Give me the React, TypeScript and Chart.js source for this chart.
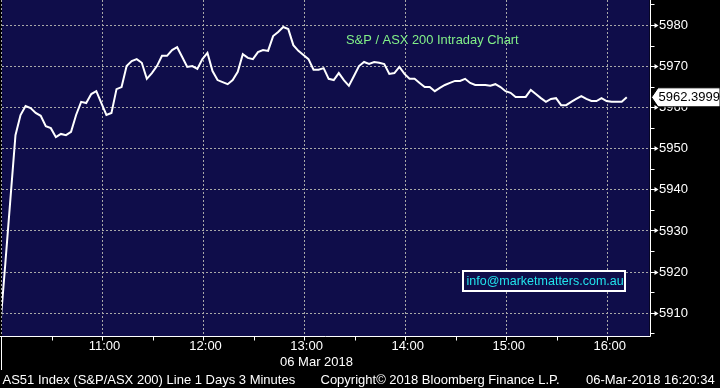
import React, { useEffect, useRef } from "react";
import { Chart, registerables } from "chart.js";

Chart.register(...registerables);

// ---- Data (3-minute bars from 10:00, 06 Mar 2018) ----
const BAR_MINUTES = 3;
const BAR_OFFSET_MIN = -1;
const closes: number[] = [
  5906.8, 5922.1, 5937.7, 5953.2, 5958.1, 5960.3, 5959.8, 5958.6, 5957.9, 5955.4,
  5954.9, 5952.7, 5953.5, 5953.2, 5954.0, 5958.1, 5961.3, 5961.0, 5963.2, 5963.9,
  5961.0, 5958.1, 5958.6, 5964.4, 5964.9, 5970.0, 5971.2, 5971.7, 5970.8, 5966.9,
  5968.3, 5970.0, 5972.5, 5972.5, 5973.9, 5974.6, 5972.2, 5969.8, 5970.0, 5969.3,
  5971.7, 5973.2, 5968.8, 5966.6, 5966.1, 5965.6, 5966.6, 5968.6, 5972.9, 5972.0,
  5971.7, 5973.4, 5973.9, 5973.7, 5977.3, 5978.3, 5979.5, 5979.0, 5975.1, 5973.7,
  5972.7, 5971.7, 5969.1, 5969.1, 5969.5, 5966.9, 5966.6, 5968.3, 5966.6, 5965.2,
  5967.6, 5970.0, 5971.0, 5970.5, 5971.0, 5970.8, 5970.5, 5968.1, 5968.3, 5969.8,
  5968.1, 5966.9, 5966.9, 5965.9, 5964.9, 5964.9, 5963.9, 5964.7, 5965.4, 5965.9,
  5966.4, 5966.4, 5966.9, 5965.9, 5965.4, 5965.4, 5965.4, 5965.2, 5965.6, 5964.9,
  5963.9, 5963.5, 5962.5, 5962.5, 5962.5, 5964.2, 5963.2, 5962.2, 5961.3, 5962.0,
  5962.2, 5960.5, 5960.5, 5961.3, 5962.0, 5962.7, 5962.0, 5961.5, 5961.5, 5962.2,
  5961.5, 5961.3, 5961.3, 5961.3, 5962.3999,
];
const lastPrice = "5962.3999";

// ---- Axes ----
const hourTickMinutes = [0, 60, 120, 180, 240, 300, 360];
const hourTickLabels = ["", "11:00", "12:00", "13:00", "14:00", "15:00", "16:00"];
const halfHourTickMinutes = [30, 90, 150, 210, 270, 330];
const yMajorTicks = [5910, 5920, 5930, 5940, 5950, 5960, 5970, 5980];
const yMinorTicks = [5905, 5915, 5925, 5935, 5945, 5955, 5965, 5975, 5985];
const X_MIN = 0;
const X_MAX = 384.5;
const Y_MIN = 5904.33;
const Y_MAX = 5986.08;

// ---- Texts ----
const titleText = "S&P / ASX 200 Intraday Chart";
const infoText = "info@marketmatters.com.au";
const dateText = "06 Mar 2018";
const footerLeft = "AS51 Index (S&P/ASX 200) Line 1 Days 3 Minutes";
const footerMid = "Copyright\u00A9 2018 Bloomberg Finance L.P.";
const footerRight = "06-Mar-2018 16:20:34";

const FONT = "'Liberation Sans', Arial, sans-serif";
const NAVY = "#0f0d4a";

const decorPlugin = {
  id: "bbgDecor",
  beforeDatasetsDraw(chart: any) {
    const ctx = chart.ctx as CanvasRenderingContext2D;
    const { left, right, top, bottom } = chart.chartArea;
    const xs = chart.scales.x;
    const ys = chart.scales.y;
    ctx.save();
    ctx.fillStyle = "#000000";
    ctx.fillRect(0, 0, chart.width, chart.height);
    ctx.fillStyle = NAVY;
    ctx.fillRect(left, top, right - left, bottom - top);
    ctx.strokeStyle = "#a8a8a8";
    ctx.lineWidth = 1;
    ctx.setLineDash([2, 2]);
    for (const v of yMajorTicks) {
      const y = Math.round(ys.getPixelForValue(v)) + 0.5;
      ctx.beginPath();
      ctx.moveTo(left, y);
      ctx.lineTo(right, y);
      ctx.stroke();
    }
    for (const m of hourTickMinutes) {
      const x = Math.round(xs.getPixelForValue(m)) - 0.5;
      ctx.beginPath();
      ctx.moveTo(x, top);
      ctx.lineTo(x, bottom);
      ctx.stroke();
    }
    ctx.restore();
  },
  afterDatasetsDraw(chart: any) {
    const ctx = chart.ctx as CanvasRenderingContext2D;
    const { right, top, bottom } = chart.chartArea;
    const xs = chart.scales.x;
    const ys = chart.scales.y;
    ctx.save();
    ctx.setLineDash([]);

    // Title
    ctx.fillStyle = "#82f088";
    ctx.font = `12.9px ${FONT}`;
    ctx.textBaseline = "middle";
    ctx.textAlign = "left";
    ctx.fillText(titleText, 346, 40);

    // Info box
    ctx.fillStyle = NAVY;
    ctx.fillRect(463, 271, 162, 20);
    ctx.strokeStyle = "#ffffff";
    ctx.lineWidth = 2;
    ctx.strokeRect(463, 271, 162, 20);
    ctx.fillStyle = "#22e4ec";
    ctx.font = `12.5px ${FONT}`;
    ctx.fillText(infoText, 466.5, 281.5);

    // Axis lines
    ctx.strokeStyle = "#ffffff";
    ctx.lineWidth = 1;
    const axY = Math.round(bottom) + 0.5;
    const axX = Math.round(right) + 0.5;
    ctx.beginPath();
    ctx.moveTo(0, axY);
    ctx.lineTo(axX, axY);
    ctx.moveTo(axX, top);
    ctx.lineTo(axX, axY);
    ctx.stroke();

    // X ticks
    ctx.beginPath();
    for (const m of [...hourTickMinutes, ...halfHourTickMinutes]) {
      const x = Math.round(xs.getPixelForValue(m)) - 0.5;
      ctx.moveTo(x, axY);
      ctx.lineTo(x, axY + 4);
    }
    const x0 = Math.round(xs.getPixelForValue(0)) - 0.5;
    ctx.moveTo(x0, axY);
    ctx.lineTo(x0, 370);
    ctx.stroke();

    // X labels
    ctx.fillStyle = "#ffffff";
    ctx.font = `13px ${FONT}`;
    ctx.textAlign = "center";
    hourTickMinutes.forEach((m, i) => {
      if (!hourTickLabels[i]) return;
      ctx.fillText(hourTickLabels[i], xs.getPixelForValue(m) + 1.5, 346.5);
    });
    ctx.fillText(dateText, 316.5, 362);

    // Y ticks
    ctx.beginPath();
    for (const v of yMinorTicks) {
      const y = Math.round(ys.getPixelForValue(v)) + 0.5;
      ctx.moveTo(axX, y);
      ctx.lineTo(axX + 4, y);
    }
    ctx.stroke();
    ctx.fillStyle = "#ffffff";
    for (const v of yMajorTicks) {
      const y = Math.round(ys.getPixelForValue(v)) + 0.5;
      ctx.beginPath();
      ctx.moveTo(axX, y);
      ctx.lineTo(axX + 5, y);
      ctx.stroke();
      ctx.beginPath();
      ctx.moveTo(axX + 4, y - 2.5);
      ctx.lineTo(axX + 8, y);
      ctx.lineTo(axX + 4, y + 2.5);
      ctx.closePath();
      ctx.fill();
    }
    ctx.font = `13px ${FONT}`;
    ctx.textAlign = "left";
    for (const v of yMajorTicks) {
      ctx.fillText(String(v), 659, ys.getPixelForValue(v) + 0.5);
    }

    // Last price label
    const lastY = ys.getPixelForValue(closes[closes.length - 1]);
    ctx.beginPath();
    ctx.moveTo(651.5, lastY);
    ctx.lineTo(658, lastY - 9.5);
    ctx.lineTo(720, lastY - 9.5);
    ctx.lineTo(720, lastY + 9.5);
    ctx.lineTo(658, lastY + 9.5);
    ctx.closePath();
    ctx.fillStyle = "#ffffff";
    ctx.fill();
    ctx.strokeStyle = "#000000";
    ctx.lineWidth = 1;
    ctx.stroke();
    ctx.fillStyle = "#000000";
    ctx.font = `13px ${FONT}`;
    ctx.fillText(lastPrice, 658.5, lastY + 0.5);

    // Footer
    ctx.fillStyle = "#ffffff";
    ctx.font = `13px ${FONT}`;
    ctx.fillText(footerLeft, 2.5, 380);
    ctx.fillText(footerMid, 320.5, 380);
    ctx.fillText(footerRight, 586, 380);

    ctx.restore();
  },
};

export default function App() {
  const canvasRef = useRef<HTMLCanvasElement | null>(null);

  useEffect(() => {
    document.body.style.margin = "0";
    document.body.style.background = "#000";
    const canvas = canvasRef.current;
    if (!canvas) return;
    const data = closes.map((v, i) => ({ x: i * BAR_MINUTES + BAR_OFFSET_MIN, y: v }));
    const chart = new Chart(canvas, {
      type: "line",
      data: {
        datasets: [
          {
            label: "AS51",
            data,
            borderColor: "#ffffff",
            borderWidth: 2,
            pointRadius: 0,
            tension: 0,
            fill: false,
          },
        ],
      },
      options: {
        animation: false,
        responsive: false,
        maintainAspectRatio: false,
        devicePixelRatio: 1,
        layout: { padding: { left: 2, right: 70.5, top: 0, bottom: 52 } },
        plugins: { legend: { display: false }, tooltip: { enabled: false } },
        events: [],
        scales: {
          x: { type: "linear", min: X_MIN, max: X_MAX, display: false },
          y: { type: "linear", min: Y_MIN, max: Y_MAX, display: false },
        },
      },
      plugins: [decorPlugin],
    });
    return () => chart.destroy();
  }, []);

  return (
    <div style={{ width: 720, height: 388, background: "#000" }}>
      <canvas ref={canvasRef} width={720} height={388} style={{ display: "block" }} />
    </div>
  );
}
